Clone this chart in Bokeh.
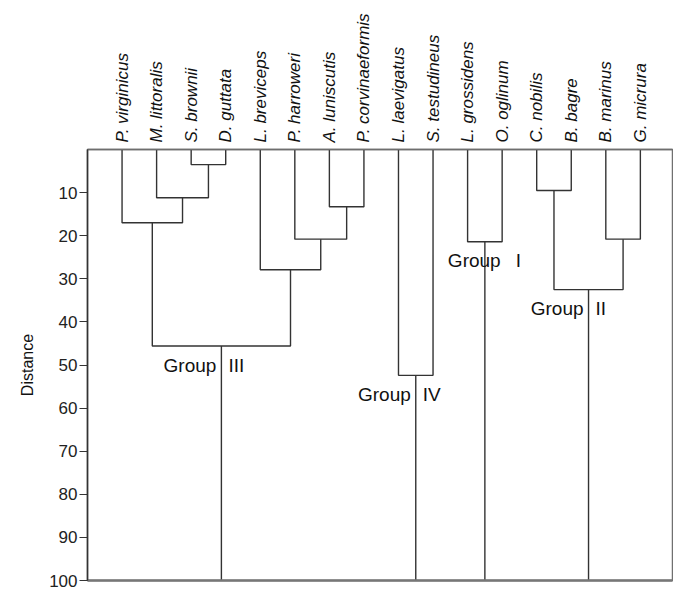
from bokeh.plotting import figure
from bokeh.models import Range1d, FixedTicker, LinearAxis
from bokeh.core.properties import value
from bokeh.embed import file_html
from bokeh.resources import INLINE

# ---- data ----
leaves = ["P. virginicus", "M. littoralis", "S. brownii", "D. guttata",
          "L. breviceps", "P. harroweri", "A. luniscutis", "P. corvinaeformis",
          "L. laevigatus", "S. testudineus", "L. grossidens", "O. oglinum",
          "C. nobilis", "B. bagre", "B. marinus", "G. micrura"]
# merges: (left node, right node, distance); leaves are 0..15, new nodes 16..
merge_left = [2, 1, 0, 6, 5, 4, 18, 8, 10, 12, 14, 25]
merge_right = [3, 16, 17, 7, 19, 20, 21, 9, 11, 13, 15, 26]
merge_dist = [3.5, 11.2, 17.0, 13.3, 20.8, 27.9, 45.6, 52.4, 21.4, 9.5, 20.8, 32.5]
group_nodes = [22, 23, 24, 27]
group_names = ["III", "IV", "I", "II"]
y_ticks = [10, 20, 30, 40, 50, 60, 70, 80, 90, 100]
y_max = 100

# ---- build dendrogram geometry ----
n = len(leaves)
node_x = {i: i + 1 for i in range(n)}
node_h = {i: 0.0 for i in range(n)}
xs, ys = [], []
for k, (a, b, d) in enumerate(zip(merge_left, merge_right, merge_dist)):
    nid = n + k
    xa, xb = node_x[a], node_x[b]
    xs.append([xa, xa, xb, xb])
    ys.append([node_h[a], d, d, node_h[b]])
    node_x[nid] = (xa + xb) / 2
    node_h[nid] = d

# group stems
for g in group_nodes:
    xs.append([node_x[g], node_x[g]])
    ys.append([node_h[g], y_max])

p = figure(width=673, height=590, output_backend="svg", toolbar_location=None,
           x_range=Range1d(0, 16.93), y_range=Range1d(y_max, 0),
           x_axis_location="above",
           min_border_left=87, min_border_top=149, min_border_right=1, min_border_bottom=10)
p.grid.visible = False
p.outline_line_color = "#707070"
p.outline_line_width = 1.5
p.background_fill_color = "white"
p.border_fill_color = "white"

p.multi_line(xs, ys, line_color="#333333", line_width=1.4)

# group labels
font = value("Liberation Sans")
for g, name in zip(group_nodes, group_names):
    x, y = node_x[g], node_h[g]
    if name == "I":
        off_word, align_word, off_num = -37, "left", 31
    else:
        off_word, align_word, off_num = -5, "right", 7
    p.text(x=[x], y=[y], text=["Group"], x_offset=off_word, y_offset=19,
           text_align=align_word, text_baseline="middle", text_font=font,
           text_font_size="19px", text_color="#111111")
    p.text(x=[x], y=[y], text=[name], x_offset=off_num, y_offset=19,
           text_align="left", text_baseline="middle", text_font=font,
           text_font_size="19px", text_color="#111111")

# top axis with leaf labels
xa = p.xaxis[0]
xa.ticker = FixedTicker(ticks=[i + 1 for i in range(n)])
xa.major_label_overrides = {i + 1: name for i, name in enumerate(leaves)}
xa.major_label_orientation = "vertical"
xa.major_tick_out = 0
xa.major_tick_in = 0
xa.minor_tick_out = 0
xa.minor_tick_in = 0
xa.major_label_standoff = 7
xa.major_label_text_font = "Liberation Sans"
xa.major_label_text_font_style = "italic"
xa.major_label_text_font_size = "17px"
xa.major_label_text_color = "#111111"
xa.axis_line_color = "#6e6e6e"
xa.axis_line_width = 1.5

# left axis
ya = p.yaxis[0]
ya.ticker = FixedTicker(ticks=y_ticks)
ya.major_tick_out = 8
ya.major_tick_in = 0
ya.minor_tick_out = 0
ya.minor_tick_in = 0
ya.major_label_standoff = 2
ya.major_label_text_font = "Liberation Sans"
ya.major_label_text_font_size = "17px"
ya.major_label_text_color = "#222222"
ya.axis_line_color = "#333333"
ya.axis_line_width = 1.5
ya.major_tick_line_color = "#333333"
ya.major_tick_line_width = 1.2
ya.axis_label = "Distance"
ya.axis_label_text_font = "Liberation Sans"
ya.axis_label_text_font_style = "normal"
ya.axis_label_text_font_size = "16px"
ya.axis_label_text_color = "#111111"
ya.axis_label_standoff = 10

# bottom line
bx = LinearAxis(ticker=FixedTicker(ticks=[]), major_label_text_font_size="0px",
                major_tick_out=0, major_tick_in=0, minor_tick_out=0, minor_tick_in=0,
                major_label_standoff=0, axis_line_color="#777777", axis_line_width=2.5)
p.add_layout(bx, "below")

open("out.html", "w").write(file_html(p, INLINE))
